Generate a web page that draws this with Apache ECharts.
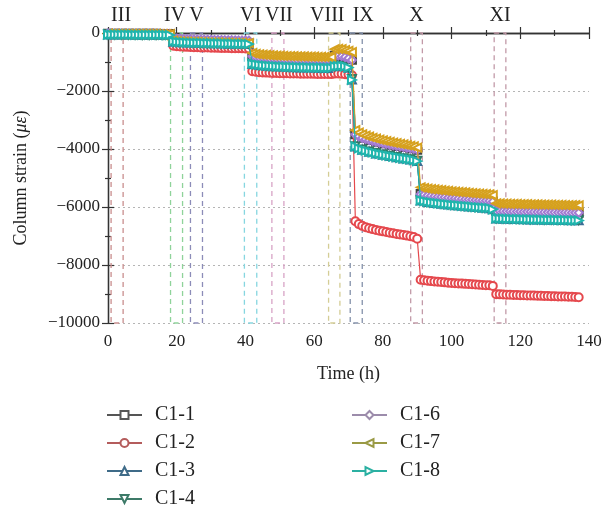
<!DOCTYPE html>
<html><head><meta charset="utf-8">
<script src="https://cdn.jsdelivr.net/npm/echarts@6/dist/echarts.min.js"></script>
<style>html,body{margin:0;padding:0;background:#fff}#c{width:603px;height:511px}</style>
</head><body><div id="c"></div>
<script>
// hourly readings (h)
const times = [0,1,2,3,4,5,6,7,8,9,10,11,12,13,14,15,16,17,18,
19,20,21,22,23,24,25,26,27,28,29,30,31,32,33,34,35,36,37,38,39,40,41,
42,43,44,45,46,47,48,49,50,51,52,53,54,55,56,57,58,59,60,61,62,63,64,65,66,67,68,69,70,71,
72,73,74,75,76,77,78,79,80,81,82,83,84,85,86,87,88,89,90,
91,92,93,94,95,96,97,98,99,100,101,102,103,104,105,106,107,108,109,110,111,112,
113,114,115,116,117,118,119,120,121,122,123,124,125,126,127,128,129,130,131,132,133,134,135,136,137];

// coarser readings for the gauges hidden beneath the others
const timesCoarse = [0,2,4,6,8,10,12,14,16,18,
19,21,23,25,27,29,31,33,35,37,39,41,
42,44,46,48,50,52,54,56,58,60,62,64,66,68,70,71,
72,74,76,78,80,82,84,86,88,90,
91,93,95,97,99,101,103,105,107,109,111,112,
113,115,117,119,121,123,125,127,129,131,133,135,137];

const c1_1 = [-22,-24,-25,-26,-27,-28,-29,-30,-31,-32,
-300,-310,-318,-325,-331,-337,-342,-347,-352,-357,-362,-367,
-800,-838,-858,-868,-878,-884,-891,-897,-903,-907,-913,-917,-785,-795,-865,-925,
-3495,-3615,-3690,-3750,-3802,-3850,-3893,-3934,-3973,-4025,
-5555,-5596,-5626,-5652,-5676,-5698,-5718,-5737,-5755,-5773,-5791,-5808,
-6132,-6140,-6146,-6152,-6158,-6163,-6168,-6173,-6178,-6183,-6188,-6192,-6197];

const c1_2 = [-35,-36,-37,-38,-39,-40,-41,-42,-43,-43,-44,-45,-46,-46,-47,-48,-49,-50,-51,
-440,-455,-465,-472,-478,-483,-488,-492,-496,-500,-503,-506,-509,-512,-515,-518,-520,-523,-525,-528,-530,-532,-535,
-1320,-1338,-1350,-1359,-1366,-1372,-1377,-1381,-1385,-1388,-1391,-1394,-1396,-1399,-1401,-1403,-1405,-1407,-1409,-1411,-1413,-1414,-1416,-1418,-1400,-1395,-1405,-1420,-1435,-1455,
-6490,-6590,-6650,-6695,-6730,-6762,-6790,-6816,-6840,-6863,-6885,-6906,-6927,-6947,-6967,-6987,-7006,-7035,-7095,
-8510,-8528,-8543,-8556,-8568,-8579,-8589,-8599,-8608,-8617,-8626,-8634,-8642,-8650,-8658,-8666,-8673,-8680,-8687,-8694,-8701,-8720,
-9005,-9012,-9018,-9023,-9028,-9032,-9036,-9040,-9044,-9048,-9052,-9056,-9060,-9064,-9067,-9071,-9075,-9078,-9082,-9086,-9089,-9093,-9097,-9101,-9110];

const c1_3 = [-50,-52,-55,-56,-58,-60,-61,-63,-65,-67,
-300,-320,-330,-339,-345,-351,-357,-362,-367,-372,-377,-382,
-1070,-1105,-1128,-1144,-1158,-1168,-1178,-1186,-1192,-1198,-1203,-1206,-1148,-1138,-1195,-1600,
-3915,-4025,-4095,-4152,-4200,-4244,-4285,-4325,-4363,-4415,
-5775,-5825,-5858,-5887,-5913,-5937,-5960,-5982,-6004,-6024,-6044,-6075,
-6398,-6406,-6412,-6417,-6422,-6427,-6432,-6437,-6442,-6446,-6451,-6456,-6461];

const c1_4 = [-48,-50,-52,-54,-56,-58,-60,-62,-64,-66,
-292,-312,-322,-331,-337,-343,-349,-354,-359,-364,-369,-374,
-1062,-1098,-1120,-1137,-1151,-1161,-1171,-1179,-1185,-1191,-1196,-1199,-1142,-1132,-1185,-1590,
-3905,-4015,-4085,-4142,-4190,-4234,-4275,-4315,-4353,-4405,
-5765,-5815,-5848,-5877,-5903,-5927,-5950,-5972,-5994,-6014,-6034,-6065,
-6390,-6398,-6404,-6409,-6414,-6419,-6424,-6429,-6434,-6438,-6443,-6448,-6453];

const c1_6 = [-18,-19,-19,-20,-21,-21,-22,-23,-23,-24,-25,-25,-26,-27,-27,-28,-29,-30,-31,
-180,-192,-200,-206,-211,-215,-219,-223,-226,-229,-232,-235,-238,-240,-243,-245,-248,-250,-252,-255,-257,-259,-261,
-800,-825,-840,-851,-860,-867,-873,-878,-883,-887,-891,-894,-897,-900,-903,-906,-908,-911,-913,-915,-917,-919,-921,-923,-790,-780,-800,-830,-870,-930,
-3500,-3570,-3620,-3660,-3695,-3726,-3755,-3782,-3807,-3831,-3854,-3876,-3897,-3918,-3938,-3958,-3977,-3996,-4030,
-5560,-5583,-5601,-5617,-5631,-5644,-5656,-5668,-5679,-5690,-5700,-5710,-5720,-5730,-5739,-5748,-5757,-5766,-5775,-5784,-5793,-5812,
-6135,-6139,-6143,-6146,-6149,-6152,-6155,-6158,-6161,-6164,-6166,-6169,-6172,-6174,-6177,-6179,-6182,-6184,-6187,-6189,-6191,-6194,-6196,-6198,-6200];

const c1_7 = [-25,-26,-26,-27,-28,-28,-29,-30,-30,-31,-32,-32,-33,-34,-34,-35,-36,-37,-38,
-265,-278,-287,-293,-298,-302,-306,-310,-313,-316,-319,-322,-325,-327,-330,-332,-335,-337,-339,-342,-344,-346,-348,
-690,-718,-735,-748,-758,-766,-773,-779,-784,-789,-793,-797,-801,-804,-807,-810,-813,-816,-818,-821,-823,-825,-827,-829,-560,-545,-560,-590,-620,-660,
-3350,-3435,-3492,-3538,-3577,-3612,-3644,-3674,-3702,-3728,-3753,-3777,-3800,-3822,-3844,-3866,-3888,-3910,-3950,
-5320,-5345,-5364,-5380,-5395,-5409,-5422,-5434,-5446,-5457,-5468,-5479,-5489,-5499,-5509,-5519,-5528,-5537,-5546,-5555,-5564,-5590,
-5875,-5879,-5883,-5886,-5889,-5892,-5895,-5898,-5901,-5904,-5906,-5909,-5912,-5914,-5917,-5919,-5922,-5924,-5927,-5929,-5931,-5934,-5936,-5938,-5940];

const c1_8 = [-55,-56,-57,-58,-58,-59,-60,-60,-61,-62,-63,-64,-64,-65,-66,-67,-68,-70,-72,
-290,-305,-315,-322,-328,-333,-337,-341,-344,-347,-350,-353,-356,-358,-361,-363,-366,-368,-371,-373,-376,-378,-381,
-1060,-1085,-1102,-1115,-1126,-1135,-1143,-1150,-1156,-1161,-1166,-1170,-1174,-1178,-1181,-1184,-1187,-1190,-1192,-1195,-1197,-1200,-1202,-1204,-1150,-1140,-1135,-1150,-1190,-1620,
-3910,-3975,-4020,-4058,-4090,-4120,-4147,-4172,-4196,-4219,-4241,-4262,-4283,-4303,-4323,-4342,-4361,-4380,-4420,
-5770,-5800,-5822,-5840,-5856,-5871,-5885,-5898,-5911,-5923,-5935,-5947,-5958,-5969,-5980,-5991,-6002,-6012,-6022,-6032,-6042,-6080,
-6395,-6400,-6404,-6408,-6411,-6414,-6417,-6420,-6423,-6426,-6429,-6432,-6435,-6437,-6440,-6442,-6445,-6447,-6450,-6452,-6455,-6457,-6460,-6462,-6465];

const seriesNames = ['C1-1','C1-2','C1-3','C1-4','C1-6','C1-7','C1-8'];
const seriesValues = [c1_1,c1_2,c1_3,c1_4,c1_6,c1_7,c1_8];
const seriesTimes = [timesCoarse,times,timesCoarse,timesCoarse,times,times,times];
const seriesColors = ['#444444','#e5484d','#3b6f96','#2f7c68','#a27ad2','#d6a11e','#1fb5ad'];
const legendColors = ['#555555','#b45c5c','#3f6b88','#3d7a68','#9c8cab','#9a9a45','#2bb0a2'];
const seriesSymbols = ['emptyRect','emptyCircle','emptyTriangle','emptyTriangle','emptyDiamond','emptyTriangle','emptyTriangle'];
const seriesRotate = [0,0,0,180,0,90,-90];

const stageNames = ['III','IV','V','VI','VII','VIII','IX','X','XI'];
const stageStart = [0.9,18.2,24.0,39.7,47.7,64.2,70.5,88.1,112.4];
const stageEnd   = [4.4,21.7,27.5,43.3,51.2,67.5,74.0,91.5,115.8];
const stageColors = ['#c98e8e','#8fd39a','#8c8cb8','#86d6e0','#d7a3c6','#d4cd95','#8491aa','#c29aa8','#c29aa8'];
const stageLabelShift = [4,-2,0,0,1,-7,7,0,0];

const SERIF = '"Liberation Serif","DejaVu Serif",serif';
const minus = v => v < 0 ? '\u2212' + Math.abs(v) : String(v);

const chart = echarts.init(document.getElementById('c'), null, {renderer:'canvas'});

const series = seriesNames.map((n, i) => ({
  name: n, type: 'line', z: 3 + i,
  data: seriesTimes[i].map((t, k) => [t, seriesValues[i][k]]),
  symbol: seriesSymbols[i], symbolSize: 8, symbolRotate: seriesRotate[i],
  showAllSymbol: true,
  lineStyle: {color: seriesColors[i], width: 1.2},
  itemStyle: {color: seriesColors[i], borderWidth: 1.2},
  emphasis: {disabled: true}, animation: false
}));

series.unshift({
  name: 'stages', type: 'line', data: [], z: 1, silent: true, animation: false,
  markArea: {
    silent: true,
    data: stageNames.map((s, i) => [
      {xAxis: stageStart[i], yAxis: 0,
       itemStyle: {color: 'rgba(0,0,0,0)', borderColor: stageColors[i], borderWidth: 1.3, borderType: [5, 4]},
       label: {show: true, position: 'top', distance: 7, formatter: s, offset: [stageLabelShift[i], 0],
               fontFamily: SERIF, fontSize: 20, color: '#222'}},
      {xAxis: stageEnd[i], yAxis: -10000}
    ])
  }
});

const axisLine = {show: true, lineStyle: {color: '#333', width: 1.3}};
const tickStyle = {lineStyle: {color: '#333', width: 1.2}};
const legendText = {fontFamily: SERIF, fontSize: 20, color: '#222', padding: [0,0,0,8]};
const legendItem = n => {
  const i = seriesNames.indexOf(n);
  return {name: n, itemStyle: {color: legendColors[i], borderColor: legendColors[i]}, lineStyle: {color: legendColors[i]}};
};

chart.setOption({
  animation: false,
  backgroundColor: '#fff',
  grid: {left: 108, right: 14, top: 33, bottom: 188, containLabel: false, outerBoundsMode: 'none'},
  xAxis: [{
    type: 'value', min: 0, max: 140, interval: 20, position: 'bottom',
    name: 'Time (h)', nameLocation: 'middle', nameGap: 42,
    nameTextStyle: {fontFamily: SERIF, fontSize: 18, color: '#222'},
    axisLine: axisLine,
    axisTick: Object.assign({show: true, inside: true, length: 6}, tickStyle),
    minorTick: Object.assign({show: true, splitNumber: 2, length: 3}, tickStyle),
    axisLabel: {fontFamily: SERIF, fontSize: 17, color: '#222', margin: 10},
    splitLine: {show: false}
  }, {
    type: 'value', min: 0, max: 140, interval: 20, position: 'top',
    axisLine: axisLine,
    axisTick: Object.assign({show: true, inside: true, length: 6}, tickStyle),
    minorTick: Object.assign({show: true, splitNumber: 2, length: 3}, tickStyle),
    axisLabel: {show: false}, splitLine: {show: false}
  }],
  yAxis: [{
    type: 'value', min: -10000, max: 0, interval: 2000, position: 'left',
    name: 'Column strain ({i|με})', nameLocation: 'middle', nameGap: 78,
    nameTextStyle: {fontFamily: SERIF, fontSize: 18, color: '#222',
      rich: {i: {fontFamily: SERIF, fontSize: 18, fontStyle: 'italic', color: '#222'}}},
    axisLine: axisLine,
    axisTick: Object.assign({show: true, inside: true, length: 6}, tickStyle),
    minorTick: Object.assign({show: true, splitNumber: 2, length: 3}, tickStyle),
    axisLabel: {fontFamily: SERIF, fontSize: 17, color: '#222', margin: 8, formatter: minus},
    splitLine: {show: true, lineStyle: {color: '#b5b5b5', type: [2, 3], width: 1}}
  }, {
    type: 'value', min: -10000, max: 0, interval: 2000, position: 'right',
    axisLine: axisLine,
    axisTick: Object.assign({show: true, inside: true, length: 6}, tickStyle),
    minorTick: Object.assign({show: true, splitNumber: 2, length: 3}, tickStyle),
    axisLabel: {show: false}, splitLine: {show: false}
  }],
  legend: [{
    data: ['C1-1','C1-2','C1-3','C1-4'].map(legendItem), orient: 'vertical', left: 106, top: 405, padding: 0,
    itemWidth: 35, itemHeight: 10, itemGap: 8, height: 106,
    textStyle: legendText, selectedMode: false
  }, {
    data: ['C1-6','C1-7','C1-8'].map(legendItem), orient: 'vertical', left: 351, top: 405, padding: 0,
    itemWidth: 35, itemHeight: 10, itemGap: 8, height: 106,
    textStyle: legendText, selectedMode: false
  }],
  series: series
});
</script></body></html>
